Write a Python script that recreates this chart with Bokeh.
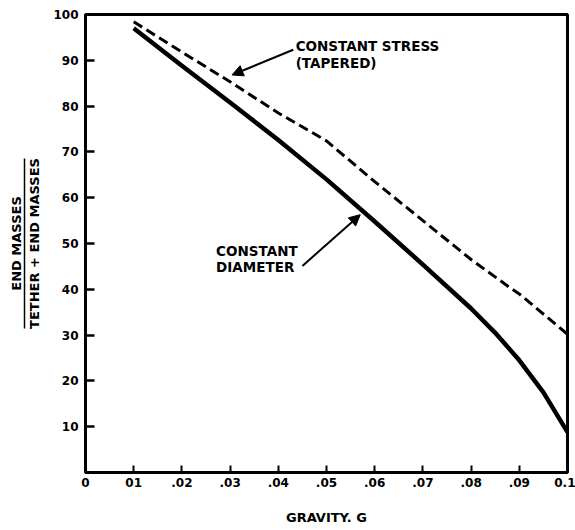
from bokeh.plotting import figure
from bokeh.models import LinearAxis, FixedTicker, Arrow, NormalHead, Label, Range1d
from bokeh.embed import file_html
from bokeh.resources import INLINE

# ---- data ----
gravity_diameter = [0.01, 0.02, 0.03, 0.04, 0.05, 0.06, 0.07, 0.08, 0.085, 0.09, 0.095, 0.1]
constant_diameter = [97.0, 88.8, 80.8, 72.6, 64.0, 54.8, 45.4, 35.8, 30.5, 24.5, 17.5, 8.8]
gravity_stress = [0.01, 0.02, 0.03, 0.04, 0.05, 0.06, 0.07, 0.08, 0.088, 0.09, 0.1]
constant_stress = [98.4, 91.8, 85.3, 78.5, 72.4, 63.5, 55.0, 46.5, 40.4, 39.0, 30.2]

x_ticks = [0.0, 0.01, 0.02, 0.03, 0.04, 0.05, 0.06, 0.07, 0.08, 0.09, 0.1]
x_tick_labels = ["0", "01", ".02", ".03", ".04", ".05", ".06", ".07", ".08", ".09", "0.1"]
y_ticks = [10, 20, 30, 40, 50, 60, 70, 80, 90, 100]
y_tick_labels = ["10", "20", "30", "40", "50", "60", "70", "80", "90", "100"]

FONT = "DejaVu Sans"

p = figure(width=575, height=528,
           x_range=Range1d(0, 0.1), y_range=Range1d(0, 100),
           output_backend="svg", toolbar_location=None,
           min_border_left=85, min_border_right=8,
           min_border_top=14, min_border_bottom=56)
p.grid.visible = False
p.outline_line_color = "black"
p.outline_line_width = 3
p.background_fill_color = "white"
p.border_fill_color = "white"

# x axis
xa = p.xaxis[0]
xa.ticker = FixedTicker(ticks=x_ticks)
xa.major_label_overrides = {t: l for t, l in zip(x_ticks, x_tick_labels)}
xa.minor_tick_line_color = None
xa.major_tick_in = 7
xa.major_tick_out = 0
xa.major_tick_line_width = 2
xa.axis_line_width = 3
xa.major_label_standoff = 5
xa.major_label_text_font = FONT
xa.major_label_text_font_style = "bold"
xa.major_label_text_font_size = "12px"
xa.major_label_text_color = "black"
xa.axis_label = "GRAVITY. G"
xa.axis_label_text_font = FONT
xa.axis_label_text_font_style = "bold"
xa.axis_label_text_font_size = "13px"
xa.axis_label_text_color = "black"
xa.axis_label_standoff = 20

# primary y axis
ya = p.yaxis[0]
ya.ticker = FixedTicker(ticks=y_ticks)
ya.major_label_overrides = {t: l for t, l in zip(y_ticks, y_tick_labels)}
ya.minor_tick_line_color = None
ya.major_tick_in = 9
ya.major_tick_out = 0
ya.major_tick_line_width = 2.5
ya.axis_line_width = 3
ya.major_label_standoff = 7
ya.major_label_text_font = FONT
ya.major_label_text_font_style = "bold"
ya.major_label_text_font_size = "12px"
ya.major_label_text_color = "black"
ya.axis_label = "TETHER + END MASSES"
ya.axis_label_text_font = FONT
ya.axis_label_text_font_style = "bold"
ya.axis_label_text_font_size = "13px"
ya.axis_label_text_color = "black"
ya.axis_label_standoff = 8

# extra axis whose short line acts as the fraction bar
frac = LinearAxis(ticker=FixedTicker(ticks=[]), bounds=(31.5, 68.5),
                  axis_line_width=1.5, major_tick_in=0, major_tick_out=0,
                  minor_tick_in=0, minor_tick_out=0,
                  major_label_text_font_size="0px",
                  axis_label="END MASSES", axis_label_standoff=1,
                  axis_label_text_font=FONT, axis_label_text_font_style="bold",
                  axis_label_text_font_size="13px", axis_label_text_color="black")
p.add_layout(frac, "left")

# curves
p.line(gravity_diameter, constant_diameter, line_color="black", line_width=4.5,
       line_join="round")
p.line(gravity_stress, constant_stress, line_color="black", line_width=3,
       line_dash="10 5")

# annotations
lbl = dict(text_font=FONT, text_font_style="bold", text_font_size="13.5px",
           text_align="left", text_baseline="middle", text_color="black")
p.add_layout(Label(x=0.0436, y=93.1, text="CONSTANT STRESS", **lbl))
p.add_layout(Label(x=0.0436, y=89.5, text="(TAPERED)", **lbl))
p.add_layout(Label(x=0.0271, y=48.4, text="CONSTANT", **lbl))
p.add_layout(Label(x=0.0271, y=44.8, text="DIAMETER", **lbl))

p.add_layout(Arrow(end=NormalHead(size=11, fill_color="black", line_color="black"),
                   x_start=0.0431, y_start=92.3, x_end=0.0304, y_end=86.8,
                   line_width=2, line_color="black"))
p.add_layout(Arrow(end=NormalHead(size=11, fill_color="black", line_color="black"),
                   x_start=0.0450, y_start=45.1, x_end=0.0570, y_end=56.3,
                   line_width=2, line_color="black"))

open("out.html", "w").write(file_html(p, INLINE))
